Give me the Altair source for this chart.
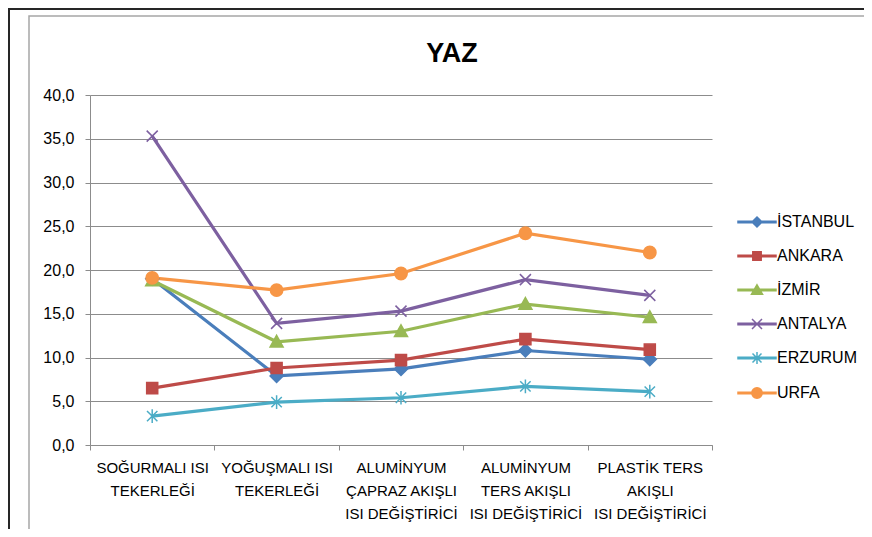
import json
import altair as alt
import pandas as pd

# ---------------- data ----------------
categories = [
    "SOĞURMALI ISI\nTEKERLEĞİ",
    "YOĞUŞMALI ISI\nTEKERLEĞİ",
    "ALUMİNYUM\nÇAPRAZ AKIŞLI\nISI DEĞİŞTİRİCİ",
    "ALUMİNYUM\nTERS AKIŞLI\nISI DEĞİŞTİRİCİ",
    "PLASTİK TERS\nAKIŞLI\nISI DEĞİŞTİRİCİ",
]
cities = ["İSTANBUL", "ANKARA", "İZMİR", "ANTALYA", "ERZURUM", "URFA"]

istanbul = [19.0, 7.9, 8.7, 10.8, 9.8]
ankara = [6.5, 8.8, 9.7, 12.1, 10.9]
izmir = [18.8, 11.8, 13.0, 16.1, 14.6]
antalya = [35.3, 13.9, 15.3, 18.9, 17.1]
erzurum = [3.3, 4.9, 5.4, 6.7, 6.1]
urfa = [19.1, 17.7, 19.6, 24.2, 22.0]

y_ticks = [0, 5, 10, 15, 20, 25, 30, 35, 40]
title_text = "YAZ"

# ---------------- styles ----------------
colors = ["#4A7EBB", "#BE4B48", "#98B954", "#7D60A0", "#4BACC6", "#F79646"]
FONT = "Liberation Sans"
GRID = "#8c8c8c"

# marker paths for the plot (unit space [-1, 1])
marker_paths = [
    "M0,-1L1,0L0,1L-1,0Z",                                   # diamond
    "M-0.85,-0.85H0.85V0.85H-0.85Z",                         # square
    "M0,-1L1,0.8H-1Z",                                       # triangle
    "M-0.85,-0.85L0.85,0.85M0.85,-0.85L-0.85,0.85",          # x
    "M-0.8,-0.8L0.8,0.8M0.8,-0.8L-0.8,0.8M0,-1.05V1.05",     # asterisk
    "M-0.95,0A0.95,0.95 0 1,0 0.95,0A0.95,0.95 0 1,0 -0.95,0Z",  # circle
]

# legend symbols: a line with the marker on it
leg_line = "M-1.9,-0.07H1.9V0.07H-1.9Z"
leg_markers = [
    "M0,-0.5L0.5,0L0,0.5L-0.5,0Z",
    "M-0.42,-0.42H0.42V0.42H-0.42Z",
    "M0,-0.52L0.55,0.42H-0.55Z",
    "M-0.5,-0.5L0.5,0.5M0.5,-0.5L-0.5,0.5",
    "M-0.45,-0.45L0.45,0.45M0.45,-0.45L-0.45,0.45M0,-0.6V0.6",
    "M-0.52,0A0.52,0.52 0 1,0 0.52,0A0.52,0.52 0 1,0 -0.52,0Z",
]
leg_paths = {c: leg_line + m for c, m in zip(cities, leg_markers)}
leg_shape_expr = json.dumps(leg_paths, ensure_ascii=False) + "[datum.value]"

series = [istanbul, ankara, izmir, antalya, erzurum, urfa]
rows = []
for i, (city, vals) in enumerate(zip(cities, series)):
    for cat, v in zip(categories, vals):
        rows.append({"category": cat, "city": city, "marker": i, "value": v})
df = pd.DataFrame(rows)

x_enc = alt.X(
    "category:N",
    sort=categories,
    bandPosition=0.5,
    scale=alt.Scale(type="band", domain=categories, paddingInner=0, paddingOuter=0),
    axis=alt.Axis(
        title=None,
        labelAngle=0,
        labelExpr="split(datum.label, '\\n')",
        labelFont=FONT,
        labelFontSize=15,
        labelLineHeight=23,
        labelColor="#000000",
        labelPadding=10,
        labelOverlap=False,
        labelLimit=300,
        tickBand="extent",
        tickSize=5,
        tickColor=GRID,
        domainColor=GRID,
        grid=False,
    ),
)
y_enc = alt.Y(
    "value:Q",
    scale=alt.Scale(domain=[0, 40], nice=False, zero=True),
    axis=alt.Axis(
        title=None,
        values=y_ticks,
        labelExpr="replace(format(datum.value, '.1f'), '.', ',')",
        labelFont=FONT,
        labelFontSize=16,
        labelColor="#000000",
        labelPadding=11,
        tickSize=5,
        tickColor=GRID,
        domainColor=GRID,
        gridColor=GRID,
        grid=True,
    ),
)

legend = alt.Legend(
    title=None,
    orient="none",
    legendX=656,
    legendY=116,
    padding=0,
    symbolSize=400,
    symbolType=alt.ExprRef(expr=leg_shape_expr),
    symbolStrokeWidth=1.5,
    symbolOpacity=1,
    labelOffset=9,
    rowPadding=15,
    labelFont=FONT,
    labelFontSize=16,
    labelColor="#000000",
)

stroke_scale = alt.Scale(domain=cities, range=colors)
fill_scale = alt.Scale(domain=cities, range=colors)

lines = alt.Chart(df).mark_line(strokeWidth=3.2).encode(
    x=x_enc,
    y=y_enc,
    stroke=alt.Stroke("city:N", sort=cities, scale=stroke_scale, legend=legend),
    detail="city:N",
)
points = alt.Chart(df).mark_point(filled=True, size=169, strokeWidth=1.5, opacity=1).encode(
    x=x_enc,
    y=y_enc,
    fill=alt.Fill("city:N", sort=cities, scale=fill_scale, legend=legend),
    stroke=alt.Stroke("city:N", sort=cities, scale=stroke_scale, legend=legend),
    shape=alt.Shape(
        "marker:O",
        scale=alt.Scale(domain=list(range(len(cities))), range=marker_paths),
        legend=None,
    ),
)

frame_data = alt.Data(values=[{"k": 1}])
outer_frame = alt.Chart(frame_data).mark_rect(fill=None, stroke="#262626", strokeWidth=2).encode(
    x=alt.value(-81), x2=alt.value(900), y=alt.value(-86), y2=alt.value(700)
)
inner_frame = alt.Chart(frame_data).mark_rect(fill=None, stroke="#a6a6a6", strokeWidth=1.5).encode(
    x=alt.value(-61), x2=alt.value(900), y=alt.value(-79), y2=alt.value(700)
)
title = alt.Chart(alt.Data(values=[{"t": title_text}])).mark_text(
    font=FONT, fontSize=27, fontWeight="bold", align="center", baseline="alphabetic", color="#000000"
).encode(x=alt.value(362), y=alt.value(-33), text="t:N")

chart = (
    alt.layer(outer_frame, inner_frame, title, lines, points)
    .properties(
        width=622,
        height=350,
        autosize=alt.AutoSizeParams(type="none"),
        padding={"left": 82, "top": 87, "right": 152, "bottom": 84},
        background="#ffffff",
    )
    .configure_view(stroke=None)
)

chart.save("out.html", embed_options={"renderer": "svg", "actions": False})
